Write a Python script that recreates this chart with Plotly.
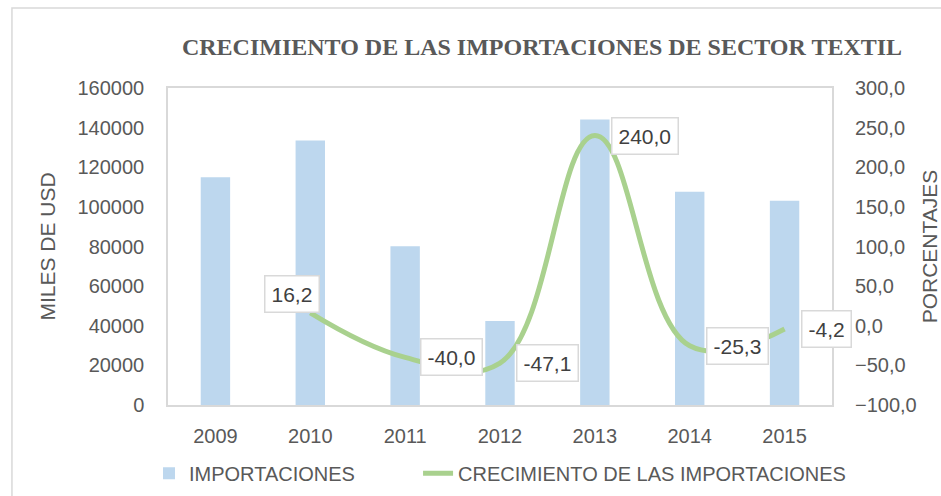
import plotly.graph_objects as go

years = ["2009", "2010", "2011", "2012", "2013", "2014", "2015"]
importaciones = [114900, 133500, 80100, 42400, 144100, 107600, 103100]
crecimiento = [None, 16.2, -40.0, -47.1, 240.0, -25.3, -4.2]
label_text = ["", "16,2", "-40,0", "-47,1", "240,0", "-25,3", "-4,2"]
label_shift = [(0, 0), (-18, 19), (46, 0), (47, 0), (50, 0), (48, 0), (42, 0)]

TXT = "#595959"
GRID = "#D9D9D9"
FONT = "Liberation Sans"

fig = go.Figure()
fig.add_trace(go.Bar(
    x=years, y=importaciones, name="IMPORTACIONES", legend="legend",
    marker=dict(color="#BDD7EE", line=dict(width=0)), width=0.31,
))
fig.add_trace(go.Scatter(
    x=years, y=crecimiento, name="CRECIMIENTO DE LAS IMPORTACIONES",
    yaxis="y2", mode="lines", legend="legend2",
    line=dict(color="#A9D18E", width=5, shape="spline", smoothing=1.15),
))

# data labels: on a category axis, annotation x is the category index
for i, (v, t, (dx, dy)) in enumerate(zip(crecimiento, label_text, label_shift)):
    if v is None:
        continue
    fig.add_annotation(
        x=i, y=v, xref="x", yref="y2", text=t, showarrow=False,
        xshift=dx, yshift=dy, font=dict(family=FONT, size=21, color="#404040"),
        bgcolor="white", bordercolor=GRID, borderwidth=1.5, borderpad=6,
    )

# outer chart border
fig.add_shape(type="rect", xref="paper", yref="paper",
              x0=-0.235, x1=1.3, y0=-0.6, y1=1.252,
              line=dict(color=GRID, width=1.5), layer="below")

leg_common = dict(orientation="h", xanchor="left", y=-0.215, yanchor="middle",
                  font=dict(family=FONT, size=20, color=TXT),
                  bgcolor="rgba(0,0,0,0)")

fig.update_layout(
    width=941, height=496,
    margin=dict(l=168, r=109, t=88, b=91, autoexpand=False),
    paper_bgcolor="white", plot_bgcolor="white",
    separators=",.",
    font=dict(family=FONT, size=20, color=TXT),
    title=dict(
        text="<b>CRECIMIENTO DE LAS IMPORTACIONES DE SECTOR TEXTIL</b>",
        font=dict(family="Liberation Serif", size=24, color=TXT),
        x=542 / 941, xref="container", xanchor="center",
        y=1 - 47 / 496, yref="container", yanchor="middle",
    ),
    showlegend=True,
    legend=dict(x=-0.0286, **leg_common),
    legend2=dict(x=0.3766, **leg_common),
    xaxis=dict(
        type="category", range=[-0.5, len(years) - 0.5], automargin=False,
        showline=True, linecolor=GRID, linewidth=1.5, mirror=True,
        showgrid=False, ticks="", ticklabelstandoff=12,
        tickfont=dict(family=FONT, size=20, color=TXT),
    ),
    yaxis=dict(
        range=[0, 160000], tick0=0, dtick=20000, tickformat="d", automargin=False,
        showline=True, linecolor=GRID, linewidth=1.5, mirror=True,
        showgrid=False, zeroline=False, ticks="", ticklabelstandoff=18,
        title=dict(text="MILES DE USD", standoff=16,
                   font=dict(family=FONT, size=21, color=TXT)),
        tickfont=dict(family=FONT, size=20, color=TXT),
    ),
    yaxis2=dict(
        overlaying="y", side="right", automargin=False,
        range=[-100, 300], tick0=-100, dtick=50, tickformat=".1f",
        showline=False, showgrid=False, zeroline=False, ticks="",
        ticklabelstandoff=22,
        title=dict(text="PORCENTAJES", standoff=18,
                   font=dict(family=FONT, size=21, color=TXT)),
        tickfont=dict(family=FONT, size=20, color=TXT),
    ),
)

fig.write_html("out.html", config={"displayModeBar": False},
               post_script="document.body.style.margin='0px';")
